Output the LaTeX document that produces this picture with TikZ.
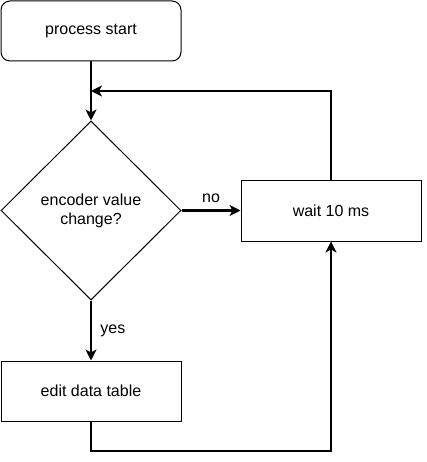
\documentclass[tikz,border=0pt]{standalone}
\usepackage{fontspec}
\setmainfont{Liberation Sans}
\usetikzlibrary{shapes.geometric,arrows.meta}
\begin{document}
\begin{tikzpicture}[x=1pt,y=-1pt,
  every node/.style={font=\fontsize{16}{19}\selectfont},
  box/.style={draw,line width=1pt,minimum width=180pt,minimum height=60pt,inner sep=0pt},
  conn/.style={line width=2.8pt,-{Stealth[length=11pt,width=11pt,inset=3pt]}},
  lbl/.style={inner sep=0pt}]
\useasboundingbox (0,0) rectangle (426,462);
\node[box,rounded corners=9pt] (start) at (91,31) {process start};
\node[draw,line width=1pt,diamond,minimum width=180pt,minimum height=179pt,inner sep=0pt,align=center] (dec) at (91,210.5) {encoder value\\change?};
\node[box] (wait) at (331,211) {wait 10 ms};
\node[box] (edit) at (91,391) {edit data table};
\coordinate (top) at (91,91);
\coordinate (tr) at (331,91);
\coordinate (bl) at (91,451);
\coordinate (br) at (331,451);
\draw[conn] (start.south) -- (dec.north);
\draw[conn] (wait.north) -- (tr) -- (top);
\draw[conn] (dec.east) -- (wait.west|-dec.east) node[lbl,midway,above=6pt] {no};
\draw[conn] (dec.south) -- (edit.north) node[lbl,midway,right=8pt] {yes};
\draw[conn] (edit.south) -- (bl) -- (br) -- (wait.south);
\end{tikzpicture}
\end{document}
